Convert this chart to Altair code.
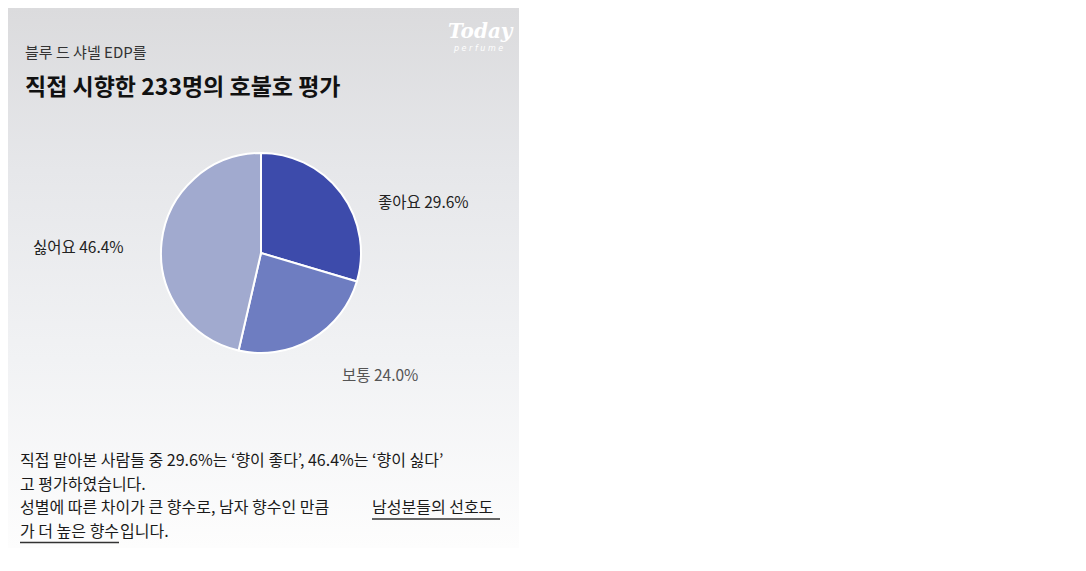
import altair as alt
import pandas as pd

categories = ["좋아요", "보통", "싫어요"]
values = [29.6, 24.0, 46.4]
colors = ["#3d4bab", "#6e7dc1", "#a1aacf"]
label_colors = ["#222222", "#555555", "#222222"]

subtitle = "블루 드 샤넬 EDP를"
title = "직접 시향한 233명의 호불호 평가"
body_lines = [
    "직접 맡아본 사람들 중 29.6%는 ‘향이 좋다’, 46.4%는 ‘향이 싫다’",
    "고 평가하였습니다.",
    "성별에 따른 차이가 큰 향수로, 남자 향수인 만큼 ",
    "가 더 높은 향수",
]
underlined = ["남성분들의 선호도", "입니다."]

W, H = 511, 540
FONT = "Noto Sans CJK KR"

pie_df = pd.DataFrame({
    "cat": categories,
    "val": values,
    "order": list(range(len(categories))),
    "label": [f"{c} {v:.1f}%" for c, v in zip(categories, values)],
})

one = pd.DataFrame({"a": [0]})

bg = alt.Chart(one).mark_rect(
    color=alt.Gradient(
        gradient="linear",
        x1=0, x2=0, y1=0, y2=1,
        stops=[
            alt.GradientStop(color="#dbdbdd", offset=0),
            alt.GradientStop(color="#e6e7ea", offset=0.3),
            alt.GradientStop(color="#f1f2f4", offset=0.65),
            alt.GradientStop(color="#fdfdfd", offset=1),
        ],
    )
).encode(x=alt.value(0), x2=alt.value(W), y=alt.value(0), y2=alt.value(H))

pie = alt.Chart(pie_df).mark_arc(radius=100, stroke="white", strokeWidth=2).encode(
    theta=alt.Theta("val:Q", stack=True),
    order=alt.Order("order:Q"),
    color=alt.Color("cat:N", scale=alt.Scale(domain=categories, range=colors), legend=None),
    x=alt.value(253),
    y=alt.value(245),
)

def txt(text, x, y, size=14, color="#222222", weight="normal", align="left", style="normal", font=FONT):
    return alt.Chart(one).mark_text(
        text=text, align=align, baseline="middle", fontSize=size, color=color,
        fontWeight=weight, font=font, fontStyle=style,
    ).encode(x=alt.value(x), y=alt.value(y))

layers = [bg, pie]
layers.append(txt(subtitle, 17, 45, size=15, color="#333333"))
layers.append(txt(title, 17, 80, size=23, color="#111111", weight="bold"))
layers.append(txt(pie_df.label[0], 370, 195, size=15.5, color=label_colors[0]))
layers.append(txt(pie_df.label[1], 334, 368, size=15.5, color=label_colors[1]))
layers.append(txt(pie_df.label[2], 25, 240, size=15.5, color=label_colors[2]))

logo = txt("Today", 440, 24, size=20, color="white", weight="bold", style="italic", font="DejaVu Serif")
logo2 = txt("p e r f u m e", 446, 41, size=8, color="white", style="italic", font="DejaVu Sans")
layers += [logo, logo2]

ys = [453, 476.5, 500, 523.5]
BS = 16
BC = "#1a1a1a"
layers.append(txt(body_lines[0], 12, ys[0], size=BS, color=BC))
layers.append(txt(body_lines[1], 12, ys[1], size=BS, color=BC))
layers.append(txt(body_lines[2], 12, ys[2], size=BS, color=BC))
layers.append(txt(underlined[0], 364, ys[2], size=BS, color=BC))
layers.append(txt(body_lines[3], 12, ys[3], size=BS, color=BC))
layers.append(txt(underlined[1], 112, ys[3], size=BS, color=BC))

ul1 = alt.Chart(one).mark_rule(color="#333333", strokeWidth=1.5).encode(
    x=alt.value(364), x2=alt.value(492), y=alt.value(511))
ul2 = alt.Chart(one).mark_rule(color="#333333", strokeWidth=1.5).encode(
    x=alt.value(12), x2=alt.value(111), y=alt.value(534.5))
layers += [ul1, ul2]

chart = alt.layer(*layers).properties(
    width=W, height=H, padding=0, autosize=alt.AutoSizeParams(type="none")
).configure_view(stroke=None)

chart.save("out.html", embed_options={"renderer": "svg", "actions": False})
